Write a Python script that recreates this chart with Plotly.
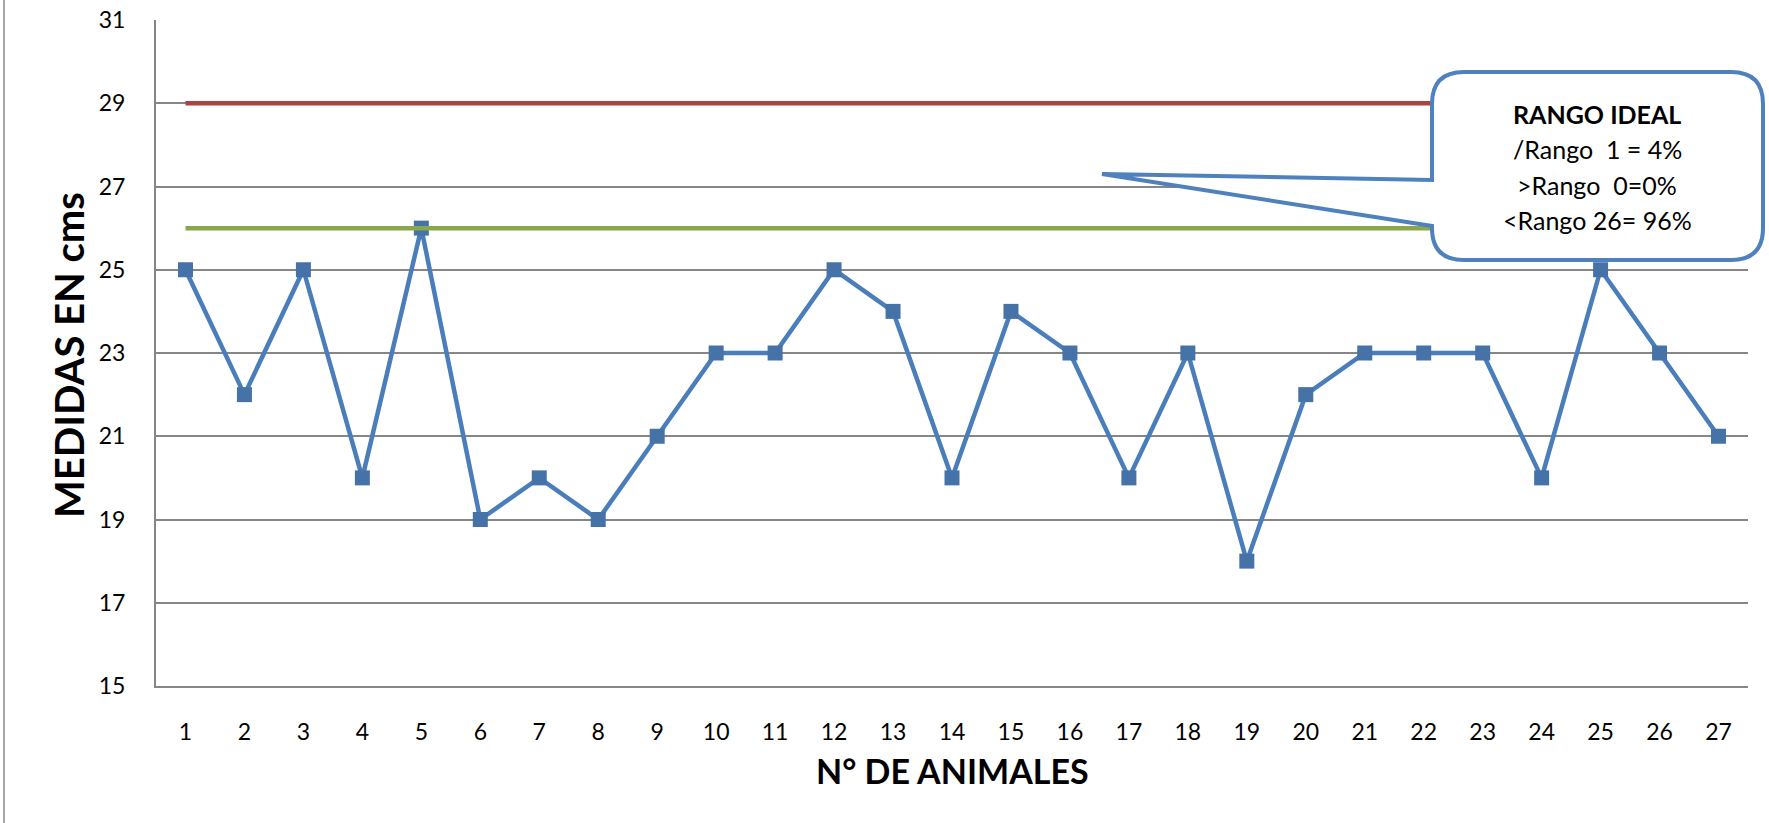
import plotly.graph_objects as go

# datos
animales = list(range(1, 28))
medidas = [25, 22, 25, 20, 26, 19, 20, 19, 21, 23, 23, 25, 24, 20, 24,
           23, 20, 23, 18, 22, 23, 23, 23, 20, 25, 23, 21]
limite_sup = [29] * 27
limite_inf = [26] * 27
y_ticks = [15, 17, 19, 21, 23, 25, 27, 29, 31]
callout_lines = ["<b>RANGO IDEAL</b>", "/Rango  1 = 4%", ">Rango  0=0%", "<Rango 26= 96%"]

W, H = 1769, 823
L, R, T, B = 156, 21, 20, 137
PW, PH = W - L - R, H - T - B
FONT = "Lato, 'Open Sans', sans-serif"
GRID = "#868686"


def px(x):
    # pixel -> paper
    return (x - L) / PW


def py(y):
    return (H - B - y) / PH


fig = go.Figure()
fig.add_trace(go.Scatter(
    x=animales, y=medidas, mode="lines+markers",
    line=dict(color="#4A7EBB", width=4.5),
    marker=dict(symbol="square", size=15, color="#4572A7"),
    showlegend=False,
))
fig.add_trace(go.Scatter(
    x=animales, y=limite_sup, mode="lines",
    line=dict(color="#A94441", width=4.5), showlegend=False,
))
fig.add_trace(go.Scatter(
    x=animales, y=limite_inf, mode="lines",
    line=dict(color="#8AA84B", width=4.5), showlegend=False,
))

# callout (rounded box with pointer)
x0, x1, y0, y1, r = 1432, 1763, 72, 260, 32
tip = (1102, 174)
b_top, b_bot = 180, 226
pts = [
    f"M {px(x0 + r)},{py(y0)}",
    f"L {px(x1 - r)},{py(y0)}",
    f"Q {px(x1)},{py(y0)} {px(x1)},{py(y0 + r)}",
    f"L {px(x1)},{py(y1 - r)}",
    f"Q {px(x1)},{py(y1)} {px(x1 - r)},{py(y1)}",
    f"L {px(x0 + r)},{py(y1)}",
    f"Q {px(x0)},{py(y1)} {px(x0)},{py(y1 - r)}",
    f"L {px(x0)},{py(b_bot)}",
    f"L {px(tip[0])},{py(tip[1])}",
    f"L {px(x0)},{py(b_top)}",
    f"L {px(x0)},{py(y0 + r)}",
    f"Q {px(x0)},{py(y0)} {px(x0 + r)},{py(y0)}",
    "Z",
]
shapes = [
    dict(type="path", xref="paper", yref="paper", path=" ".join(pts),
         line=dict(color="#4F81BD", width=4), fillcolor="white", layer="above"),
    dict(type="line", xref="paper", yref="paper", x0=px(4), x1=px(4),
         y0=py(0), y1=py(H), line=dict(color="#A6A6A6", width=2)),
]

annotations = []
for i, txt in enumerate(callout_lines):
    annotations.append(dict(
        text=txt, xref="paper", yref="paper", x=px(1597), y=py(114 + i * 35.5),
        xanchor="center", yanchor="middle", showarrow=False,
        font=dict(family=FONT, size=25, color="black"),
    ))
annotations.append(dict(
    text="<b>MEDIDAS EN cms</b>", xref="paper", yref="paper",
    x=px(69), y=py(355), textangle=-90, xanchor="center", yanchor="middle",
    showarrow=False, font=dict(family=FONT, size=40, color="black"),
))
annotations.append(dict(
    text="<b>N° DE ANIMALES</b>", xref="paper", yref="paper",
    x=px(952), y=py(770), xanchor="center", yanchor="middle",
    showarrow=False, font=dict(family=FONT, size=34, color="black"),
))

fig.update_layout(
    width=W, height=H,
    margin=dict(l=L, r=R, t=T, b=B),
    paper_bgcolor="white", plot_bgcolor="white",
    font=dict(family=FONT, size=23, color="black"),
    shapes=shapes, annotations=annotations,
    xaxis=dict(
        type="linear", range=[0.5, 27.5], tickvals=animales,
        showgrid=False, zeroline=False, automargin=False,
        showline=True, linecolor=GRID, linewidth=2,
        ticks="", ticklabelstandoff=24,
    ),
    yaxis=dict(
        range=[15, 31], tickvals=y_ticks,
        showgrid=True, gridcolor=GRID, gridwidth=1.5, zeroline=False,
        automargin=False,
        showline=True, linecolor=GRID, linewidth=2,
        ticks="", ticklabelstandoff=24,
    ),
)

# drop the default page margin so the figure sits at the top-left corner
fig.write_html("out.html", config={"displayModeBar": False},
               post_script="document.body.style.margin='0px';")
